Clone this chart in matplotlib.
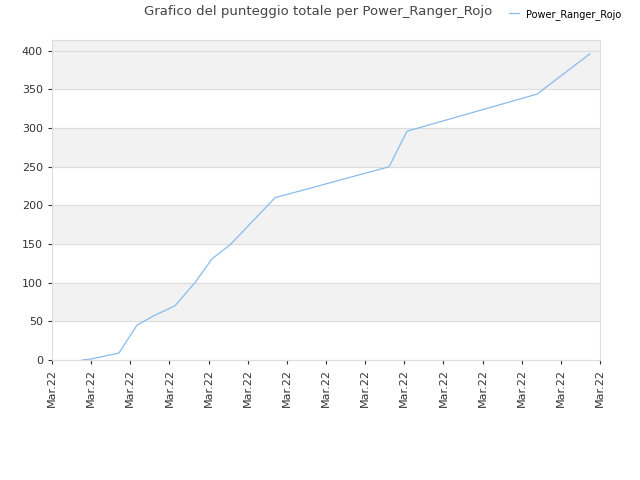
import matplotlib
matplotlib.use("Agg")
import matplotlib.pyplot as plt

# x positions expressed in tick units (0..14)
x_vals = [0.77, 0.97, 1.71, 2.17, 2.63, 3.14, 3.65, 4.09, 4.55, 5.70, 8.61, 9.07, 12.39, 13.74]
y_vals = [0, 1, 9, 45, 58, 70, 100, 131, 149, 210, 250, 296, 344, 396]
tick_labels = ["Mar.22"] * 15

fig = plt.figure(figsize=(6.4, 4.8), dpi=100)
ax = fig.add_axes([52 / 640, 120 / 480, 548 / 640, 320 / 480])

ax.set_xlim(0, 14)
ax.set_ylim(0, 414)
for lo in [50, 150, 250, 350]:
    ax.axhspan(lo, lo + 50, color="#f2f2f2", zorder=0)
ax.axhspan(400, 414, color="#f2f2f2", zorder=0)
ax.set_yticks(range(0, 401, 50))
ax.grid(axis="y", color="#dddddd", linewidth=0.8)
ax.set_axisbelow(True)

ax.plot(x_vals, y_vals, color="#88bbee", linewidth=0.9, label="Power_Ranger_Rojo")

ax.set_xticks(range(15))
ax.set_xticklabels(tick_labels, rotation=90)
ax.tick_params(labelsize=8, colors="#333333", length=3)
for s in ax.spines.values():
    s.set_color("#dddddd")

fig.text(318 / 640, 1 - 12 / 480, "Grafico del punteggio totale per Power_Ranger_Rojo",
         ha="center", va="center", fontsize=9.5, color="#444444")
fig.legend(loc="upper right", bbox_to_anchor=(0.985, 1.0), frameon=False,
           fontsize=7, handlelength=1.0)

fig.savefig("out.png")
